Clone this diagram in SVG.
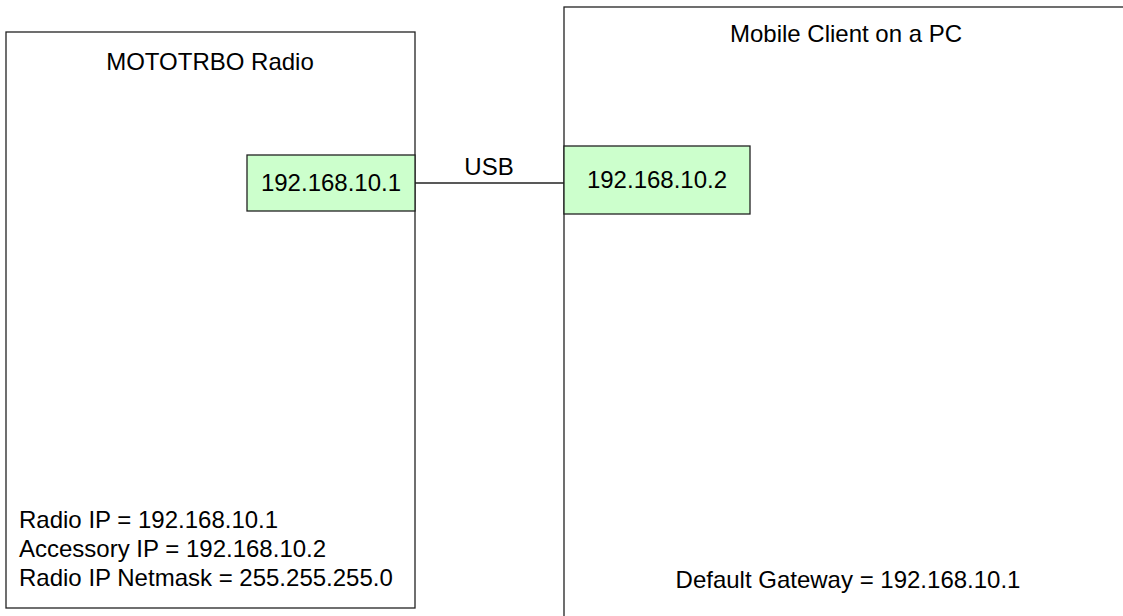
<svg xmlns="http://www.w3.org/2000/svg" width="1123" height="616" viewBox="0 0 1123 616">
  <style>
    .box { fill: #ffffff; stroke: #222222; stroke-width: 1.3; }
    .port { fill: #ccffcc; stroke: #222222; stroke-width: 1.3; }
    .wire { stroke: #222222; stroke-width: 1.3; fill: none; }
    text { font-family: "Liberation Sans", Arial, sans-serif; font-size: 24px; fill: #000000; }
    .c { text-anchor: middle; }
  </style>
  <rect width="1123" height="616" fill="#ffffff"/>
  <g id="radio">
    <rect class="box" x="6" y="32" width="409" height="576"/>
    <text class="c" x="210" y="70">MOTOTRBO Radio</text>
    <text x="19" y="528">Radio IP = 192.168.10.1</text>
    <text x="19" y="557">Accessory IP = 192.168.10.2</text>
    <text x="19" y="586">Radio IP Netmask = 255.255.255.0</text>
  </g>
  <g id="pc">
    <rect class="box" x="564" y="7" width="566" height="630"/>
    <text class="c" x="846" y="42">Mobile Client on a PC</text>
    <text class="c" x="848" y="588">Default Gateway = 192.168.10.1</text>
  </g>
  <g id="radio-port">
    <rect class="port" x="247" y="155" width="168" height="56"/>
    <text class="c" x="331" y="191">192.168.10.1</text>
  </g>
  <g id="pc-port">
    <rect class="port" x="564" y="146" width="186" height="68"/>
    <text class="c" x="657" y="188">192.168.10.2</text>
  </g>
  <g id="connectors">
    <line class="wire" x1="415" y1="183" x2="564" y2="183"/>
    <text class="c" x="489" y="175">USB</text>
  </g>
</svg>
